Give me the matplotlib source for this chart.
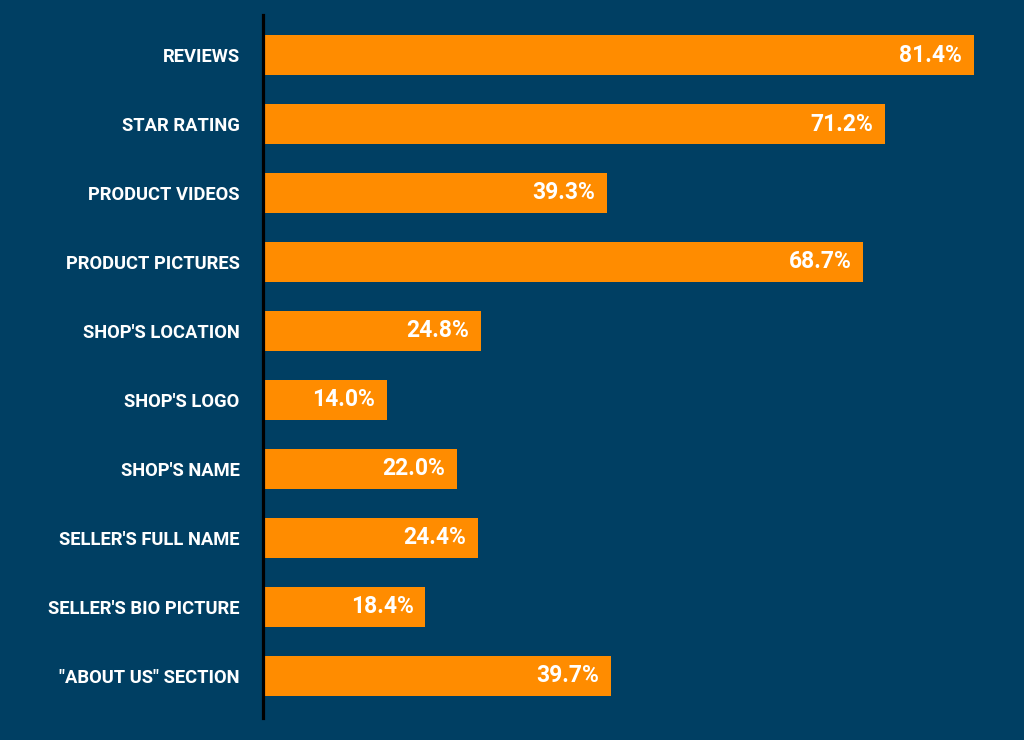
import matplotlib.pyplot as plt

# data
categories = ['REVIEWS', 'STAR RATING', 'PRODUCT VIDEOS', 'PRODUCT PICTURES',
              "SHOP'S LOCATION", "SHOP'S LOGO", "SHOP'S NAME",
              "SELLER'S FULL NAME", "SELLER'S BIO PICTURE", '"ABOUT US" SECTION']
values = [81.4, 71.2, 39.3, 68.7, 24.8, 14.0, 22.0, 24.4, 18.4, 39.7]

bg = '#003F63'
bar_color = '#FF8C00'

plt.rcParams['font.family'] = ['Roboto', 'DejaVu Sans']

fig = plt.figure(figsize=(10.24, 7.4), dpi=100, facecolor=bg)
ax = fig.add_axes([265 / 1024, 22 / 740, (1024 - 265) / 1024, 703 / 740])
ax.set_facecolor(bg)

for s in ['top', 'right', 'bottom']:
    ax.spines[s].set_visible(False)
ax.spines['left'].set_color('black')
ax.spines['left'].set_linewidth(2.3)
ax.spines['left'].set_position(('data', -0.2))

pos = list(range(len(categories)))
ax.barh(pos, values, height=0.58, color=bar_color, zorder=2)

for y, v in zip(pos, values):
    ax.text(v - 1.35, y, f'{v:.1f}%', ha='right', va='center',
            color='white', fontsize=16.5, fontweight='bold')

ax.set_xlim(0, (1024 - 265) / 8.71)
ax.set_ylim(9.61, -0.58)
ax.set_yticks(pos)
ax.set_yticklabels(categories, color='white', fontsize=13.2, fontweight='bold')
ax.tick_params(axis='y', length=0, pad=17)
ax.set_xticks([])

fig.savefig('out.png', dpi=100, facecolor=bg)
